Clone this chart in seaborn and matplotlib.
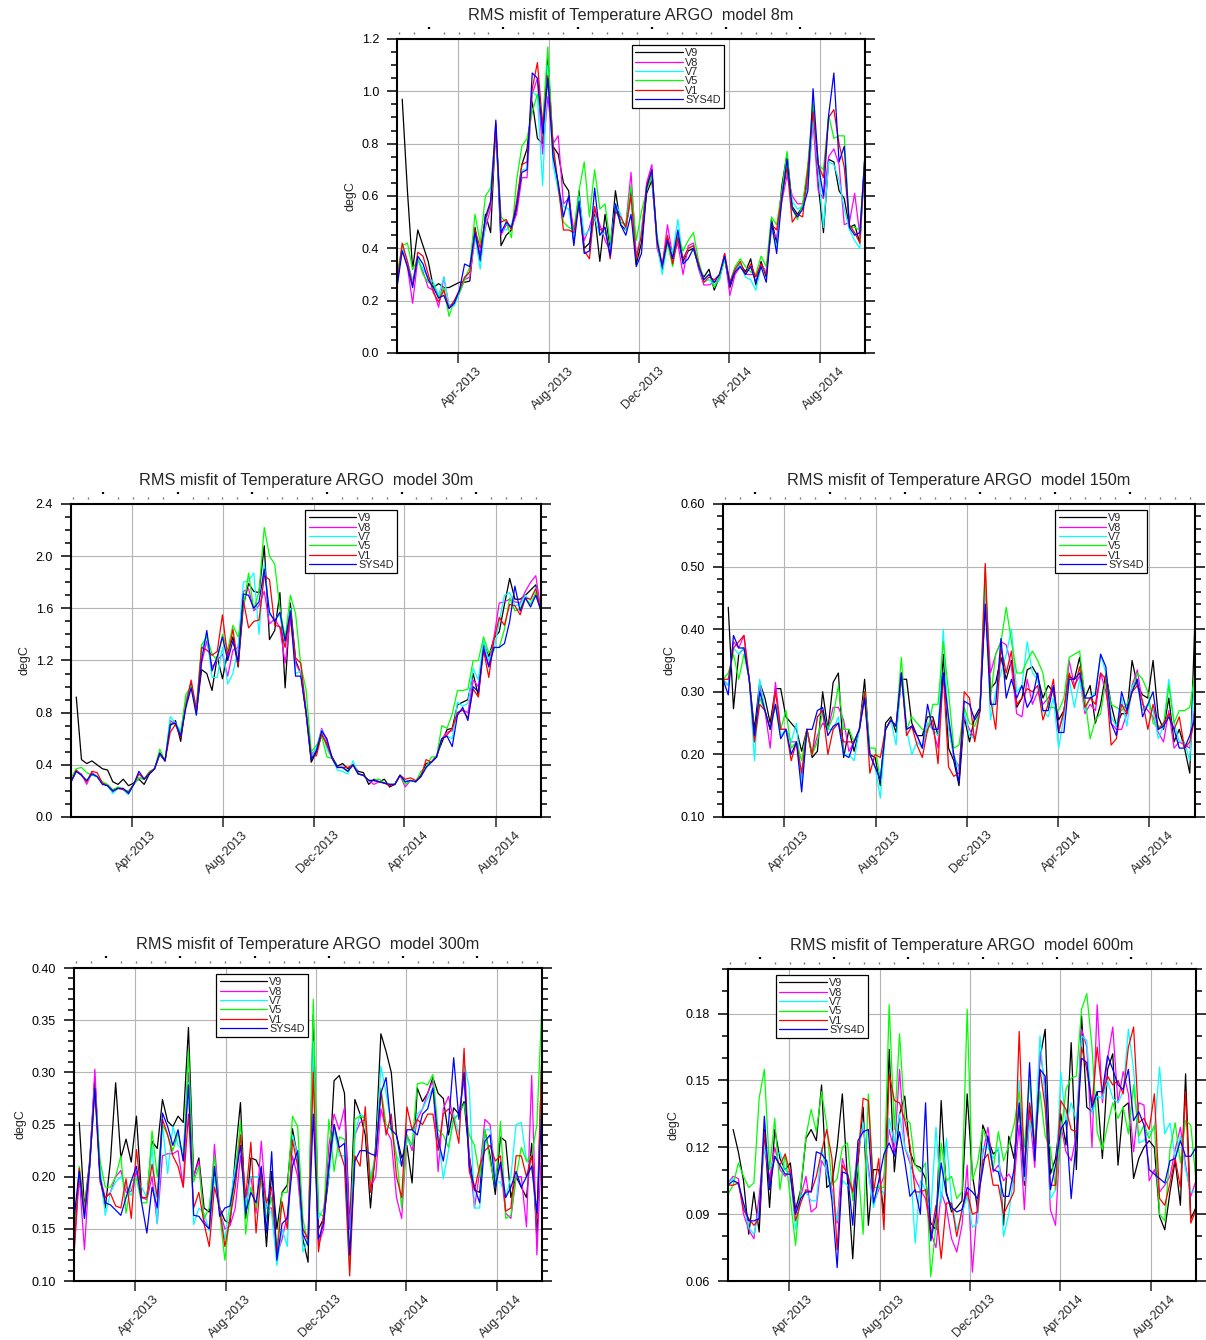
import numpy as np
import pandas as pd
import matplotlib
matplotlib.use("Agg")
import matplotlib.pyplot as plt
import matplotlib.dates as mdates
import matplotlib.transforms as mtransforms
from matplotlib.ticker import MultipleLocator, FormatStrFormatter, NullFormatter, NullLocator
import seaborn as sns

nan = np.nan

# ========================================================
# Data: weekly RMS misfit (degC) per run
# ========================================================
dates = pd.date_range("2013-01-09", periods=91, freq="7D")
runs = ["V9", "V8", "V7", "V5", "V1", "SYS4D"]
colors = ["#000000", "#ff00ff", "#00ffff", "#00ff00", "#ff0000", "#0000ff"]

# ---- 8m ----
t8_v9 = [nan, 0.97, 0.62, 0.32, 0.47, 0.41, 0.35, 0.25, 0.265, 0.25,
         0.25, 0.26, 0.27, 0.27, 0.275, 0.48, 0.35, 0.53, 0.46, 0.87,
         0.41, 0.45, 0.47, 0.55, 0.72, 0.78, 0.96, 0.82, 0.80, 1.13,
         0.79, 0.76, 0.65, 0.62, 0.42, 0.62, 0.40, 0.42, 0.53, 0.35,
         0.53, 0.40, 0.62, 0.49, 0.47, 0.62, 0.34, 0.42, 0.61, 0.66,
         0.43, 0.32, 0.44, 0.37, 0.44, 0.35, 0.39, 0.40, 0.33, 0.29,
         0.32, 0.24, 0.29, 0.36, 0.25, 0.31, 0.34, 0.31, 0.36, 0.26,
         0.35, 0.29, 0.51, 0.42, 0.64, 0.76, 0.56, 0.53, 0.56, 0.70,
         0.94, 0.64, 0.46, 0.74, 0.73, 0.62, 0.59, 0.48, 0.49, 0.42,
         0.77]
t8_v8 = [0.27, 0.40, 0.33, 0.19, 0.36, 0.31, 0.25, 0.24, 0.175, 0.29,
         0.18, 0.19, 0.23, 0.28, 0.29, 0.44, 0.38, 0.48, 0.55, 0.88,
         0.45, 0.49, 0.48, 0.53, 0.67, 0.67, 0.99, 1.05, 0.76, 0.98,
         0.80, 0.83, 0.57, 0.59, 0.47, 0.56, 0.43, 0.48, 0.55, 0.49,
         0.43, 0.39, 0.56, 0.50, 0.49, 0.69, 0.37, 0.46, 0.65, 0.72,
         0.40, 0.33, 0.49, 0.37, 0.42, 0.30, 0.41, 0.42, 0.32, 0.26,
         0.26, 0.27, 0.28, 0.38, 0.22, 0.30, 0.33, 0.30, 0.30, 0.30,
         0.34, 0.31, 0.47, 0.44, 0.58, 0.68, 0.60, 0.57, 0.57, 0.65,
         0.88, 0.62, 0.59, 0.75, 0.78, 0.72, 0.49, 0.50, 0.61, 0.45,
         0.74]
t8_v7 = [0.28, 0.40, 0.35, 0.28, 0.36, 0.32, 0.29, 0.27, 0.22, 0.29,
         0.18, 0.18, 0.23, 0.28, 0.31, 0.45, 0.32, 0.50, 0.57, 0.85,
         0.47, 0.47, 0.49, 0.57, 0.70, 0.70, 1.00, 0.98, 0.64, 1.10,
         0.72, 0.62, 0.56, 0.55, 0.44, 0.60, 0.45, 0.47, 0.52, 0.45,
         0.46, 0.39, 0.57, 0.53, 0.47, 0.60, 0.36, 0.47, 0.63, 0.68,
         0.42, 0.30, 0.42, 0.38, 0.51, 0.36, 0.40, 0.41, 0.33, 0.27,
         0.28, 0.26, 0.28, 0.36, 0.27, 0.31, 0.34, 0.29, 0.28, 0.24,
         0.33, 0.31, 0.48, 0.40, 0.60, 0.70, 0.58, 0.55, 0.56, 0.63,
         0.90, 0.70, 0.48, 0.73, 0.72, 0.66, 0.55, 0.47, 0.43, 0.40,
         0.76]
t8_v5 = [0.30, 0.41, 0.42, 0.32, 0.36, 0.30, 0.27, 0.26, 0.21, 0.25,
         0.14, 0.20, 0.23, 0.28, 0.33, 0.53, 0.42, 0.60, 0.63, 0.85,
         0.52, 0.50, 0.44, 0.66, 0.79, 0.82, 0.92, 0.99, 0.88, 1.17,
         0.78, 0.63, 0.50, 0.48, 0.47, 0.62, 0.73, 0.52, 0.70, 0.55,
         0.57, 0.42, 0.55, 0.50, 0.49, 0.64, 0.43, 0.54, 0.62, 0.68,
         0.45, 0.33, 0.42, 0.33, 0.45, 0.39, 0.43, 0.46, 0.35, 0.28,
         0.30, 0.25, 0.29, 0.37, 0.27, 0.33, 0.36, 0.33, 0.31, 0.30,
         0.37, 0.33, 0.52, 0.49, 0.62, 0.77, 0.55, 0.51, 0.57, 0.72,
         0.96, 0.72, 0.70, 0.91, 0.82, 0.83, 0.83, 0.48, 0.48, 0.47,
         0.76]
t8_v1 = [0.26, 0.42, 0.35, 0.26, 0.385, 0.37, 0.30, 0.23, 0.195, 0.24,
         0.17, 0.20, 0.24, 0.29, 0.31, 0.47, 0.40, 0.51, 0.57, 0.85,
         0.50, 0.51, 0.47, 0.58, 0.72, 0.73, 1.01, 1.11, 0.87, 1.06,
         0.80, 0.64, 0.47, 0.47, 0.46, 0.57, 0.39, 0.36, 0.56, 0.47,
         0.48, 0.36, 0.54, 0.52, 0.48, 0.60, 0.36, 0.45, 0.64, 0.70,
         0.42, 0.34, 0.45, 0.34, 0.44, 0.36, 0.40, 0.41, 0.34, 0.27,
         0.29, 0.28, 0.30, 0.38, 0.27, 0.32, 0.35, 0.30, 0.34, 0.29,
         0.34, 0.30, 0.49, 0.47, 0.60, 0.71, 0.50, 0.53, 0.52, 0.70,
         0.92, 0.72, 0.67, 0.90, 0.93, 0.80, 0.71, 0.49, 0.46, 0.42,
         0.75]
t8_sys = [0.25, 0.39, 0.33, 0.25, 0.37, 0.34, 0.28, 0.25, 0.21, 0.22,
          0.17, 0.19, 0.24, 0.34, 0.33, 0.46, 0.36, 0.52, 0.58, 0.89,
          0.46, 0.50, 0.48, 0.56, 0.69, 0.70, 1.07, 1.05, 0.84, 1.05,
          0.75, 0.65, 0.52, 0.60, 0.41, 0.58, 0.38, 0.39, 0.63, 0.45,
          0.48, 0.37, 0.57, 0.49, 0.45, 0.53, 0.33, 0.38, 0.63, 0.70,
          0.43, 0.33, 0.43, 0.36, 0.47, 0.34, 0.36, 0.40, 0.33, 0.28,
          0.30, 0.27, 0.30, 0.37, 0.26, 0.31, 0.33, 0.30, 0.33, 0.27,
          0.33, 0.27, 0.50, 0.38, 0.59, 0.74, 0.55, 0.52, 0.55, 0.62,
          1.01, 0.72, 0.60, 0.91, 1.07, 0.73, 0.79, 0.48, 0.45, 0.46,
          0.76]

# ---- 30m ----
t30_v9 = [nan, 0.92, 0.44, 0.41, 0.43, 0.40, 0.37, 0.36, 0.27, 0.25,
          0.29, 0.24, 0.26, 0.29, 0.25, 0.33, 0.37, 0.48, 0.43, 0.70,
          0.74, 0.58, 0.88, 1.03, 0.80, 1.13, 1.10, 0.97, 1.23, 1.06,
          1.26, 1.38, 1.15, 1.62, 1.79, 1.73, 1.72, 2.08, 1.36, 1.43,
          1.72, 0.99, 1.64, 1.20, 1.10, 0.80, 0.42, 0.50, 0.63, 0.56,
          0.46, 0.39, 0.41, 0.37, 0.40, 0.35, 0.34, 0.25, 0.29, 0.27,
          0.29, 0.23, 0.25, 0.32, 0.27, 0.28, 0.27, 0.32, 0.41, 0.42,
          0.47, 0.57, 0.67, 0.68, 0.86, 0.88, 0.90, 1.10, 0.93, 1.33,
          1.23, 1.37, 1.42, 1.63, 1.83, 1.67, 1.67, 1.70, 1.74, 1.78,
          1.57]
t30_v8 = [0.27, 0.35, 0.33, 0.25, 0.34, 0.31, 0.26, 0.24, 0.19, 0.22,
          0.21, 0.18, 0.25, 0.30, 0.29, 0.34, 0.37, 0.49, 0.43, 0.74,
          0.71, 0.63, 0.86, 1.00, 0.84, 1.18, 1.35, 1.15, 1.20, 1.25,
          1.08, 1.28, 1.30, 1.73, 1.75, 1.58, 1.62, 1.73, 1.48, 1.52,
          1.45, 1.18, 1.52, 1.18, 1.10, 0.80, 0.48, 0.52, 0.68, 0.58,
          0.45, 0.38, 0.38, 0.35, 0.40, 0.33, 0.32, 0.28, 0.25, 0.27,
          0.26, 0.25, 0.25, 0.32, 0.23, 0.28, 0.27, 0.31, 0.38, 0.42,
          0.46, 0.60, 0.65, 0.66, 0.80, 0.82, 0.80, 1.05, 1.00, 1.30,
          1.16, 1.38, 1.64, 1.65, 1.67, 1.65, 1.64, 1.73, 1.80, 1.85,
          1.58]
t30_v7 = [0.27, 0.35, 0.32, 0.27, 0.33, 0.31, 0.26, 0.24, 0.18, 0.22,
          0.21, 0.17, 0.25, 0.30, 0.29, 0.34, 0.37, 0.49, 0.43, 0.77,
          0.72, 0.66, 0.90, 1.01, 0.85, 1.28, 1.40, 1.07, 1.07, 1.30,
          1.02, 1.10, 1.30, 1.80, 1.81, 1.87, 1.40, 1.94, 1.55, 1.52,
          1.55, 1.33, 1.60, 1.10, 1.12, 0.82, 0.46, 0.53, 0.67, 0.52,
          0.45, 0.36, 0.35, 0.33, 0.43, 0.33, 0.32, 0.28, 0.28, 0.27,
          0.26, 0.25, 0.25, 0.32, 0.27, 0.28, 0.27, 0.31, 0.38, 0.42,
          0.46, 0.60, 0.62, 0.60, 0.88, 0.85, 0.87, 1.14, 1.05, 1.35,
          1.20, 1.28, 1.50, 1.70, 1.72, 1.62, 1.63, 1.70, 1.66, 1.76,
          1.58]
t30_v5 = [0.30, 0.37, 0.38, 0.34, 0.32, 0.31, 0.27, 0.25, 0.21, 0.23,
          0.21, 0.20, 0.25, 0.30, 0.29, 0.35, 0.37, 0.52, 0.43, 0.72,
          0.71, 0.64, 0.94, 1.00, 0.82, 1.32, 1.38, 1.25, 1.20, 1.40,
          1.28, 1.47, 1.38, 1.60, 1.87, 1.59, 1.73, 2.22, 2.00, 1.94,
          1.60, 1.37, 1.70, 1.56, 1.16, 0.98, 0.50, 0.55, 0.62, 0.46,
          0.45, 0.38, 0.38, 0.35, 0.40, 0.33, 0.32, 0.28, 0.28, 0.29,
          0.26, 0.25, 0.25, 0.32, 0.25, 0.28, 0.27, 0.35, 0.38, 0.46,
          0.46, 0.70, 0.68, 0.79, 0.97, 0.97, 0.98, 1.20, 1.20, 1.38,
          1.26, 1.30, 1.30, 1.44, 1.68, 1.58, 1.60, 1.68, 1.63, 1.72,
          1.58]
t30_v1 = [0.27, 0.36, 0.32, 0.27, 0.35, 0.34, 0.26, 0.24, 0.20, 0.22,
          0.21, 0.19, 0.25, 0.33, 0.29, 0.34, 0.37, 0.49, 0.43, 0.65,
          0.71, 0.61, 0.86, 1.05, 0.82, 1.30, 1.28, 1.24, 1.27, 1.55,
          1.22, 1.44, 1.16, 1.66, 1.45, 1.50, 1.51, 1.85, 1.82, 1.47,
          1.46, 1.30, 1.56, 1.22, 1.18, 0.82, 0.46, 0.47, 0.64, 0.55,
          0.45, 0.38, 0.38, 0.38, 0.40, 0.33, 0.32, 0.28, 0.28, 0.27,
          0.26, 0.24, 0.25, 0.32, 0.29, 0.30, 0.28, 0.31, 0.44, 0.42,
          0.46, 0.60, 0.63, 0.68, 0.80, 0.82, 0.76, 0.98, 0.92, 1.28,
          1.07, 1.36, 1.53, 1.47, 1.63, 1.62, 1.55, 1.68, 1.67, 1.75,
          1.58]
t30_sys = [0.27, 0.35, 0.32, 0.28, 0.33, 0.31, 0.25, 0.24, 0.20, 0.22,
           0.22, 0.18, 0.25, 0.35, 0.29, 0.33, 0.37, 0.49, 0.43, 0.71,
           0.72, 0.62, 0.84, 0.99, 0.78, 1.20, 1.43, 1.12, 1.23, 1.38,
           1.20, 1.35, 1.19, 1.71, 1.70, 1.60, 1.65, 1.90, 1.57, 1.50,
           1.57, 1.35, 1.58, 1.08, 1.08, 0.80, 0.44, 0.51, 0.66, 0.60,
           0.45, 0.38, 0.38, 0.35, 0.40, 0.33, 0.32, 0.28, 0.28, 0.27,
           0.26, 0.25, 0.25, 0.32, 0.27, 0.28, 0.27, 0.31, 0.38, 0.42,
           0.46, 0.60, 0.62, 0.54, 0.78, 0.84, 0.74, 1.00, 0.96, 1.30,
           1.15, 1.30, 1.30, 1.33, 1.50, 1.77, 1.58, 1.68, 1.61, 1.70,
           1.58]

# ---- 150m ----
t150_v9 = [nan, 0.435, 0.273, 0.36, 0.37, 0.32, 0.24, 0.315, 0.29, 0.25,
           0.305, 0.305, 0.26, 0.25, 0.24, 0.205, 0.24, 0.195, 0.205, 0.30,
           0.24, 0.315, 0.33, 0.195, 0.24, 0.205, 0.24, 0.32, 0.20, 0.195,
           0.15, 0.25, 0.26, 0.235, 0.32, 0.32, 0.25, 0.23, 0.23, 0.26,
           0.26, 0.23, 0.36, 0.21, 0.19, 0.15, 0.26, 0.22, 0.26, 0.275,
           0.44, 0.305, 0.315, 0.355, 0.32, 0.35, 0.275, 0.29, 0.335, 0.34,
           0.325, 0.29, 0.31, 0.30, 0.255, 0.27, 0.325, 0.32, 0.355, 0.29,
           0.31, 0.25, 0.28, 0.33, 0.28, 0.245, 0.265, 0.265, 0.35, 0.31,
           0.295, 0.29, 0.35, 0.26, 0.24, 0.29, 0.22, 0.24, 0.21, 0.17,
           0.42]
t150_v8 = [0.32, 0.31, 0.38, 0.37, 0.39, 0.32, 0.22, 0.31, 0.27, 0.21,
           0.315, 0.24, 0.24, 0.22, 0.22, 0.16, 0.24, 0.20, 0.23, 0.25,
           0.24, 0.275, 0.275, 0.255, 0.205, 0.22, 0.24, 0.29, 0.20, 0.18,
           0.16, 0.24, 0.255, 0.245, 0.33, 0.24, 0.245, 0.23, 0.21, 0.25,
           0.24, 0.21, 0.33, 0.25, 0.195, 0.18, 0.26, 0.24, 0.225, 0.27,
           0.47, 0.33, 0.36, 0.38, 0.375, 0.34, 0.265, 0.26, 0.32, 0.28,
           0.30, 0.28, 0.29, 0.305, 0.24, 0.265, 0.35, 0.31, 0.325, 0.265,
           0.28, 0.27, 0.33, 0.30, 0.25, 0.24, 0.24, 0.265, 0.31, 0.335,
           0.28, 0.27, 0.26, 0.235, 0.22, 0.27, 0.21, 0.22, 0.215, 0.21,
           0.28]
t150_v7 = [0.32, 0.31, 0.37, 0.36, 0.37, 0.32, 0.19, 0.32, 0.27, 0.24,
           0.28, 0.23, 0.24, 0.22, 0.25, 0.15, 0.24, 0.20, 0.26, 0.265,
           0.24, 0.24, 0.26, 0.20, 0.20, 0.19, 0.24, 0.30, 0.20, 0.18,
           0.13, 0.24, 0.255, 0.215, 0.33, 0.24, 0.20, 0.22, 0.21, 0.25,
           0.24, 0.23, 0.40, 0.24, 0.20, 0.175, 0.27, 0.23, 0.225, 0.27,
           0.48, 0.255, 0.30, 0.33, 0.36, 0.40, 0.30, 0.31, 0.38, 0.33,
           0.32, 0.27, 0.26, 0.29, 0.21, 0.26, 0.32, 0.275, 0.32, 0.27,
           0.29, 0.30, 0.36, 0.33, 0.26, 0.245, 0.29, 0.245, 0.31, 0.31,
           0.27, 0.28, 0.27, 0.225, 0.245, 0.32, 0.25, 0.22, 0.22, 0.19,
           0.34]
t150_v5 = [0.32, 0.33, 0.36, 0.32, 0.36, 0.32, 0.23, 0.29, 0.27, 0.24,
           0.28, 0.24, 0.27, 0.21, 0.22, 0.19, 0.24, 0.20, 0.22, 0.27,
           0.24, 0.26, 0.31, 0.24, 0.24, 0.22, 0.24, 0.30, 0.21, 0.21,
           0.16, 0.24, 0.255, 0.245, 0.355, 0.24, 0.26, 0.25, 0.24, 0.235,
           0.28, 0.28, 0.38, 0.30, 0.21, 0.215, 0.275, 0.25, 0.245, 0.27,
           0.50, 0.29, 0.36, 0.38, 0.435, 0.38, 0.33, 0.33, 0.35, 0.365,
           0.35, 0.33, 0.275, 0.275, 0.27, 0.29, 0.355, 0.36, 0.365, 0.29,
           0.225, 0.255, 0.265, 0.32, 0.28, 0.275, 0.27, 0.28, 0.30, 0.33,
           0.32, 0.30, 0.25, 0.245, 0.245, 0.31, 0.25, 0.27, 0.27, 0.275,
           0.33]
t150_v1 = [0.32, 0.32, 0.37, 0.38, 0.39, 0.32, 0.22, 0.28, 0.27, 0.24,
           0.30, 0.24, 0.24, 0.19, 0.22, 0.17, 0.24, 0.20, 0.26, 0.27,
           0.20, 0.24, 0.25, 0.22, 0.22, 0.22, 0.24, 0.30, 0.17, 0.20,
           0.195, 0.24, 0.255, 0.245, 0.33, 0.23, 0.245, 0.215, 0.195, 0.24,
           0.255, 0.185, 0.33, 0.18, 0.165, 0.17, 0.30, 0.29, 0.22, 0.27,
           0.505, 0.29, 0.24, 0.37, 0.33, 0.365, 0.28, 0.29, 0.305, 0.30,
           0.31, 0.255, 0.28, 0.32, 0.235, 0.27, 0.33, 0.305, 0.34, 0.275,
           0.29, 0.28, 0.33, 0.32, 0.215, 0.225, 0.28, 0.265, 0.30, 0.31,
           0.285, 0.24, 0.28, 0.24, 0.25, 0.265, 0.24, 0.26, 0.21, 0.22,
           0.26]
t150_sys = [0.32, 0.295, 0.39, 0.37, 0.37, 0.32, 0.23, 0.30, 0.27, 0.24,
            0.28, 0.225, 0.24, 0.20, 0.22, 0.14, 0.24, 0.24, 0.27, 0.275,
            0.23, 0.245, 0.25, 0.20, 0.195, 0.22, 0.24, 0.29, 0.20, 0.18,
            0.16, 0.24, 0.255, 0.245, 0.33, 0.24, 0.245, 0.23, 0.21, 0.28,
            0.24, 0.24, 0.33, 0.26, 0.20, 0.155, 0.285, 0.28, 0.255, 0.27,
            0.44, 0.28, 0.28, 0.385, 0.29, 0.32, 0.29, 0.31, 0.275, 0.29,
            0.33, 0.27, 0.27, 0.31, 0.235, 0.235, 0.32, 0.32, 0.33, 0.29,
            0.29, 0.295, 0.36, 0.34, 0.25, 0.23, 0.30, 0.27, 0.30, 0.32,
            0.26, 0.28, 0.30, 0.24, 0.245, 0.26, 0.24, 0.21, 0.21, 0.23,
            0.26]

# ---- 300m ----
t300_v9 = [nan, 0.252, 0.17, 0.215, 0.295, 0.20, 0.17, 0.215, 0.29, 0.218,
           0.236, 0.214, 0.258, 0.18, 0.18, 0.234, 0.227, 0.274, 0.253, 0.248,
           0.258, 0.252, 0.343, 0.20, 0.218, 0.17, 0.166, 0.205, 0.17, 0.158,
           0.155, 0.22, 0.271, 0.16, 0.218, 0.216, 0.205, 0.133, 0.205, 0.15,
           0.185, 0.192, 0.246, 0.218, 0.14, 0.118, 0.355, 0.15, 0.16, 0.20,
           0.292, 0.297, 0.28, 0.15, 0.274, 0.26, 0.24, 0.17, 0.23, 0.337,
           0.32, 0.30, 0.24, 0.218, 0.23, 0.194, 0.285, 0.272, 0.28, 0.295,
           0.28, 0.275, 0.24, 0.266, 0.26, 0.272, 0.22, 0.187, 0.185, 0.244,
           0.22, 0.183, 0.238, 0.234, 0.18, 0.20, 0.19, 0.18, 0.232, 0.14,
           0.33]
t300_v8 = [0.125, 0.20, 0.13, 0.21, 0.303, 0.20, 0.18, 0.185, 0.20, 0.206,
           0.185, 0.186, 0.205, 0.18, 0.178, 0.20, 0.155, 0.22, 0.222, 0.222,
           0.225, 0.19, 0.30, 0.20, 0.215, 0.158, 0.15, 0.231, 0.168, 0.15,
           0.153, 0.17, 0.22, 0.18, 0.20, 0.165, 0.234, 0.17, 0.17, 0.125,
           0.14, 0.163, 0.22, 0.20, 0.143, 0.142, 0.31, 0.135, 0.15, 0.23,
           0.26, 0.245, 0.266, 0.15, 0.24, 0.252, 0.255, 0.19, 0.20, 0.265,
           0.245, 0.235, 0.18, 0.16, 0.24, 0.225, 0.255, 0.265, 0.28, 0.292,
           0.205, 0.265, 0.277, 0.255, 0.26, 0.293, 0.22, 0.17, 0.205, 0.255,
           0.25, 0.20, 0.21, 0.165, 0.16, 0.20, 0.20, 0.152, 0.297, 0.125,
           0.24]
t300_v7 = [0.15, 0.205, 0.16, 0.21, 0.285, 0.21, 0.163, 0.185, 0.195, 0.20,
           0.19, 0.182, 0.20, 0.19, 0.18, 0.23, 0.155, 0.25, 0.203, 0.248,
           0.23, 0.225, 0.29, 0.154, 0.17, 0.165, 0.148, 0.20, 0.17, 0.14,
           0.175, 0.21, 0.24, 0.17, 0.20, 0.20, 0.20, 0.17, 0.165, 0.115,
           0.15, 0.133, 0.24, 0.22, 0.128, 0.14, 0.33, 0.16, 0.17, 0.20,
           0.245, 0.22, 0.22, 0.11, 0.24, 0.26, 0.257, 0.20, 0.22, 0.306,
           0.28, 0.25, 0.22, 0.21, 0.235, 0.23, 0.26, 0.265, 0.275, 0.285,
           0.24, 0.198, 0.225, 0.26, 0.24, 0.31, 0.285, 0.17, 0.17, 0.245,
           0.245, 0.195, 0.195, 0.18, 0.20, 0.25, 0.252, 0.215, 0.21, 0.16,
           0.31]
t300_v5 = [0.14, 0.21, 0.17, 0.21, 0.285, 0.215, 0.19, 0.19, 0.20, 0.22,
           0.165, 0.196, 0.198, 0.175, 0.175, 0.244, 0.20, 0.25, 0.24, 0.225,
           0.242, 0.215, 0.32, 0.195, 0.21, 0.16, 0.17, 0.22, 0.165, 0.12,
           0.165, 0.20, 0.253, 0.145, 0.19, 0.17, 0.20, 0.16, 0.18, 0.13,
           0.185, 0.185, 0.258, 0.248, 0.16, 0.135, 0.37, 0.165, 0.162, 0.255,
           0.205, 0.238, 0.236, 0.12, 0.255, 0.258, 0.256, 0.195, 0.22, 0.285,
           0.25, 0.245, 0.22, 0.17, 0.24, 0.23, 0.289, 0.29, 0.288, 0.298,
           0.245, 0.24, 0.228, 0.255, 0.26, 0.27, 0.24, 0.23, 0.20, 0.245,
           0.215, 0.19, 0.253, 0.16, 0.163, 0.20, 0.228, 0.215, 0.22, 0.25,
           0.37]
t300_v1 = [0.13, 0.208, 0.165, 0.21, 0.285, 0.195, 0.18, 0.184, 0.172, 0.17,
           0.198, 0.16, 0.226, 0.18, 0.18, 0.212, 0.18, 0.255, 0.24, 0.22,
           0.21, 0.19, 0.26, 0.17, 0.185, 0.155, 0.133, 0.19, 0.17, 0.133,
           0.16, 0.19, 0.24, 0.18, 0.233, 0.146, 0.205, 0.175, 0.19, 0.125,
           0.176, 0.15, 0.235, 0.21, 0.15, 0.14, 0.30, 0.128, 0.165, 0.21,
           0.25, 0.226, 0.21, 0.105, 0.22, 0.21, 0.267, 0.185, 0.22, 0.282,
           0.24, 0.26, 0.20, 0.18, 0.267, 0.245, 0.255, 0.25, 0.26, 0.26,
           0.225, 0.26, 0.265, 0.255, 0.232, 0.323, 0.205, 0.187, 0.21, 0.225,
           0.23, 0.215, 0.22, 0.167, 0.17, 0.22, 0.22, 0.20, 0.22, 0.16,
           0.32]
t300_sys = [0.16, 0.205, 0.16, 0.21, 0.285, 0.20, 0.175, 0.173, 0.168, 0.163,
            0.18, 0.196, 0.21, 0.175, 0.146, 0.19, 0.17, 0.261, 0.248, 0.23,
            0.245, 0.215, 0.288, 0.163, 0.162, 0.155, 0.15, 0.21, 0.162, 0.17,
            0.172, 0.20, 0.23, 0.165, 0.185, 0.175, 0.21, 0.146, 0.224, 0.12,
            0.155, 0.16, 0.21, 0.225, 0.145, 0.134, 0.26, 0.14, 0.155, 0.21,
            0.25, 0.228, 0.232, 0.125, 0.215, 0.225, 0.225, 0.222, 0.22, 0.28,
            0.295, 0.245, 0.24, 0.21, 0.245, 0.245, 0.24, 0.26, 0.265, 0.285,
            0.235, 0.215, 0.25, 0.314, 0.255, 0.30, 0.21, 0.19, 0.175, 0.234,
            0.24, 0.19, 0.214, 0.18, 0.19, 0.205, 0.19, 0.20, 0.21, 0.165,
            0.27]

# ---- 600m ----
t600_v9 = [nan, 0.128, 0.118, 0.105, 0.081, 0.10, 0.082, 0.128, 0.093, 0.128,
           0.115, 0.11, 0.113, 0.092, 0.101, 0.124, 0.128, 0.123, 0.148, 0.102,
           0.104, 0.12, 0.144, 0.105, 0.07, 0.113, 0.138, 0.085, 0.11, 0.11,
           0.09, 0.164, 0.109, 0.135, 0.143, 0.118, 0.112, 0.111, 0.106, 0.086,
           0.083, 0.141, 0.10, 0.091, 0.093, 0.096, 0.144, 0.108, 0.092, 0.13,
           0.124, 0.117, 0.119, 0.085, 0.125, 0.115, 0.139, 0.103, 0.139, 0.12,
           0.16, 0.173, 0.108, 0.115, 0.135, 0.121, 0.167, 0.11, 0.179, 0.138,
           0.136, 0.145, 0.115, 0.155, 0.162, 0.112, 0.138, 0.14, 0.106, 0.115,
           0.12, 0.123, 0.12, 0.089, 0.083, 0.10, 0.114, 0.094, 0.153, 0.088,
           0.093]
t600_v8 = [0.104, 0.107, 0.106, 0.09, 0.083, 0.079, 0.098, 0.12, 0.106, 0.12,
           0.11, 0.107, 0.11, 0.09, 0.098, 0.107, 0.091, 0.093, 0.114, 0.11,
           0.101, 0.086, 0.115, 0.107, 0.099, 0.12, 0.129, 0.111, 0.095, 0.101,
           0.107, 0.128, 0.118, 0.155, 0.12, 0.113, 0.106, 0.101, 0.097, 0.082,
           0.075, 0.10, 0.093, 0.079, 0.073, 0.085, 0.112, 0.064, 0.095, 0.117,
           0.129, 0.109, 0.112, 0.105, 0.108, 0.104, 0.13, 0.092, 0.135, 0.111,
           0.163, 0.148, 0.092, 0.085, 0.13, 0.118, 0.114, 0.125, 0.173, 0.165,
           0.12, 0.184, 0.14, 0.16, 0.174, 0.14, 0.154, 0.144, 0.118, 0.14,
           0.139, 0.105, 0.11, 0.10, 0.103, 0.107, 0.119, 0.129, 0.112, 0.098,
           0.105]
t600_v7 = [0.104, 0.106, 0.103, 0.094, 0.084, 0.081, 0.092, 0.12, 0.11, 0.115,
           0.118, 0.11, 0.108, 0.083, 0.098, 0.10, 0.096, 0.096, 0.12, 0.108,
           0.10, 0.087, 0.105, 0.103, 0.101, 0.117, 0.131, 0.108, 0.093, 0.103,
           0.099, 0.133, 0.122, 0.135, 0.12, 0.115, 0.077, 0.105, 0.101, 0.09,
           0.129, 0.095, 0.124, 0.096, 0.083, 0.09, 0.098, 0.084, 0.086, 0.12,
           0.12, 0.115, 0.12, 0.08, 0.09, 0.108, 0.15, 0.105, 0.132, 0.122,
           0.17, 0.141, 0.097, 0.101, 0.154, 0.13, 0.14, 0.132, 0.17, 0.168,
           0.135, 0.143, 0.142, 0.15, 0.142, 0.14, 0.145, 0.173, 0.155, 0.122,
           0.123, 0.127, 0.128, 0.156, 0.126, 0.131, 0.115, 0.125, 0.11, 0.10,
           0.10]
t600_v5 = [0.099, 0.103, 0.113, 0.107, 0.102, 0.104, 0.142, 0.155, 0.11, 0.133,
           0.101, 0.117, 0.097, 0.076, 0.102, 0.125, 0.137, 0.127, 0.145, 0.13,
           0.103, 0.106, 0.12, 0.122, 0.096, 0.112, 0.081, 0.144, 0.102, 0.102,
           0.102, 0.184, 0.128, 0.171, 0.133, 0.131, 0.112, 0.109, 0.113, 0.062,
           0.085, 0.122, 0.105, 0.107, 0.097, 0.10, 0.182, 0.105, 0.113, 0.128,
           0.122, 0.11, 0.127, 0.114, 0.121, 0.13, 0.145, 0.12, 0.15, 0.121,
           0.145, 0.125, 0.12, 0.101, 0.124, 0.146, 0.151, 0.152, 0.182, 0.189,
           0.165, 0.127, 0.119, 0.13, 0.14, 0.133, 0.138, 0.126, 0.148, 0.125,
           0.13, 0.124, 0.13, 0.09, 0.087, 0.119, 0.131, 0.113, 0.132, 0.13,
           0.105]
t600_v1 = [0.103, 0.103, 0.104, 0.092, 0.088, 0.085, 0.088, 0.127, 0.104, 0.116,
           0.112, 0.117, 0.108, 0.087, 0.095, 0.101, 0.10, 0.107, 0.118, 0.128,
           0.115, 0.074, 0.112, 0.108, 0.10, 0.115, 0.142, 0.141, 0.10, 0.115,
           0.083, 0.153, 0.141, 0.14, 0.132, 0.121, 0.10, 0.10, 0.101, 0.08,
           0.094, 0.07, 0.095, 0.095, 0.08, 0.092, 0.10, 0.09, 0.091, 0.114,
           0.117, 0.103, 0.103, 0.09, 0.095, 0.10, 0.172, 0.11, 0.14, 0.12,
           0.155, 0.138, 0.103, 0.103, 0.141, 0.137, 0.128, 0.127, 0.165, 0.155,
           0.139, 0.165, 0.144, 0.152, 0.148, 0.15, 0.144, 0.165, 0.174, 0.131,
           0.133, 0.128, 0.144, 0.097, 0.094, 0.104, 0.115, 0.102, 0.145, 0.086,
           0.092]
t600_sys = [0.103, 0.105, 0.104, 0.095, 0.087, 0.087, 0.088, 0.134, 0.101, 0.116,
            0.112, 0.108, 0.108, 0.09, 0.097, 0.10, 0.10, 0.118, 0.117, 0.114,
            0.096, 0.066, 0.109, 0.108, 0.085, 0.123, 0.127, 0.128, 0.095, 0.105,
            0.117, 0.122, 0.116, 0.127, 0.114, 0.098, 0.101, 0.09, 0.14, 0.078,
            0.09, 0.113, 0.099, 0.093, 0.091, 0.092, 0.102, 0.10, 0.097, 0.11,
            0.125, 0.11, 0.109, 0.098, 0.098, 0.11, 0.14, 0.107, 0.158, 0.114,
            0.155, 0.152, 0.101, 0.112, 0.128, 0.132, 0.097, 0.124, 0.16, 0.158,
            0.138, 0.145, 0.145, 0.161, 0.155, 0.148, 0.146, 0.155, 0.132, 0.136,
            0.13, 0.11, 0.108, 0.106, 0.104, 0.114, 0.115, 0.123, 0.116, 0.116,
            0.12]

# ========================================================
# Figure setup
# ========================================================
sns.set_style("white")
plt.rcParams["font.family"] = ["Liberation Sans", "DejaVu Sans"]

fig = plt.figure(figsize=(12.06, 13.40), dpi=100)

# (depth, series, ylim, major, minor, tick format, axes rect, legend x)
panels = [
    ("8m", [t8_v9, t8_v8, t8_v7, t8_v5, t8_v1, t8_sys], (0.0, 1.2), 0.2, 0.05, "%.1f",
     [0.3292, 0.7366, 0.3881, 0.2343], 0.502),
    ("30m", [t30_v9, t30_v8, t30_v7, t30_v5, t30_v1, t30_sys], (0.0, 2.4), 0.4, 0.1, "%.1f",
     [0.0589, 0.3903, 0.3897, 0.2336], 0.4985),
    ("150m", [t150_v9, t150_v8, t150_v7, t150_v5, t150_v1, t150_sys], (0.10, 0.60), 0.10, 0.02, "%.2f",
     [0.5995, 0.3903, 0.3914, 0.2336], 0.704),
    ("300m", [t300_v9, t300_v8, t300_v7, t300_v5, t300_v1, t300_sys], (0.10, 0.40), 0.05, 0.01, "%.2f",
     [0.0614, 0.0440, 0.3881, 0.2336], 0.304),
    ("600m", [t600_v9, t600_v8, t600_v7, t600_v5, t600_v1, t600_sys], (0.06, 0.20), 0.03, 0.01, "%.2f",
     [0.6036, 0.0440, 0.3881, 0.2328], 0.1026),
]

# decorative dotted row above each panel
small_dots = pd.date_range("2013-01-12", "2014-10-01", freq="20D")
big_dots = pd.date_range("2013-02-21", "2014-10-01", freq="100D")
small_dots = [d for d in small_dots if d not in set(big_dots)]

# date labels sit a little right of their tick
label_shift = mtransforms.ScaledTranslation(4 / 100, 0, fig.dpi_scale_trans)

for depth, series, ylim, major, minor, fmt, rect, leg_x in panels:
    ax = fig.add_axes(rect)
    df = pd.DataFrame({
        "date": np.tile(dates.values, len(runs)),
        "rms": np.concatenate([np.asarray(s, dtype=float) for s in series]),
        "run": np.repeat(runs, len(dates)),
    })
    sns.lineplot(data=df, x="date", y="rms", hue="run", hue_order=runs,
                 palette=colors, estimator=None, linewidth=0.9,
                 legend=False, ax=ax)

    ax.set_xlim(dates[0], dates[-1])
    ax.set_ylim(*ylim)
    ax.xaxis.set_major_locator(mdates.MonthLocator(bymonth=[4, 8, 12]))
    ax.xaxis.set_major_formatter(mdates.DateFormatter("%b-%Y"))
    ax.xaxis.set_minor_locator(NullLocator())
    ax.yaxis.set_major_locator(MultipleLocator(major))
    ax.yaxis.set_minor_locator(MultipleLocator(minor))
    ax.yaxis.set_major_formatter(FormatStrFormatter(fmt))

    ax.set_axisbelow(True)
    ax.grid(True, which="major", color="#b4b4b4", linewidth=0.8)
    for sp in ax.spines.values():
        sp.set_linewidth(1.5)
        sp.set_color("black")

    ax.tick_params(axis="y", which="both", direction="out", left=True, right=True,
                   labelsize=9, pad=6, width=1.1, colors="black")
    ax.tick_params(axis="y", which="major", length=7)
    ax.tick_params(axis="y", which="minor", length=4)
    ax.tick_params(axis="x", which="major", direction="out", bottom=True, top=False,
                   length=7, width=1.1, labelsize=9, pad=1.5, labelrotation=45)
    for lab in ax.get_xticklabels():
        lab.set_ha("center")
        lab.set_transform(lab.get_transform() + label_shift)

    ax.set_xlabel("")
    ax.set_ylabel("degC", fontsize=9, labelpad=4)
    ax.set_title(f"RMS misfit of Temperature ARGO  model {depth}", fontsize=11.7, pad=14)

    # dotted rows above the frame
    sec1 = ax.secondary_xaxis(1.016)
    sec1.set_xticks(mdates.date2num(small_dots))
    sec1.xaxis.set_major_formatter(NullFormatter())
    sec1.xaxis.set_minor_locator(NullLocator())
    sec1.tick_params(which="major", length=1.2, width=1.0, color="#777777")
    sec2 = ax.secondary_xaxis(1.032)
    sec2.set_xticks(mdates.date2num(big_dots))
    sec2.xaxis.set_major_formatter(NullFormatter())
    sec2.xaxis.set_minor_locator(NullLocator())
    sec2.tick_params(which="major", length=1.6, width=1.6, color="black")
    for sec in (sec1, sec2):
        for sp in sec.spines.values():
            sp.set_visible(False)

    handles = [plt.Line2D([], [], color=c, lw=0.9) for c in colors]
    leg = ax.legend(handles, runs, loc="upper left", bbox_to_anchor=(leg_x, 0.981),
                    fontsize=7.8, handlelength=4.4, handletextpad=0.2,
                    labelspacing=-0.06, borderpad=0.3, borderaxespad=0,
                    frameon=True, fancybox=False, framealpha=1, edgecolor="black")
    leg.get_frame().set_linewidth(0.9)

fig.savefig("out.png", dpi=100)
